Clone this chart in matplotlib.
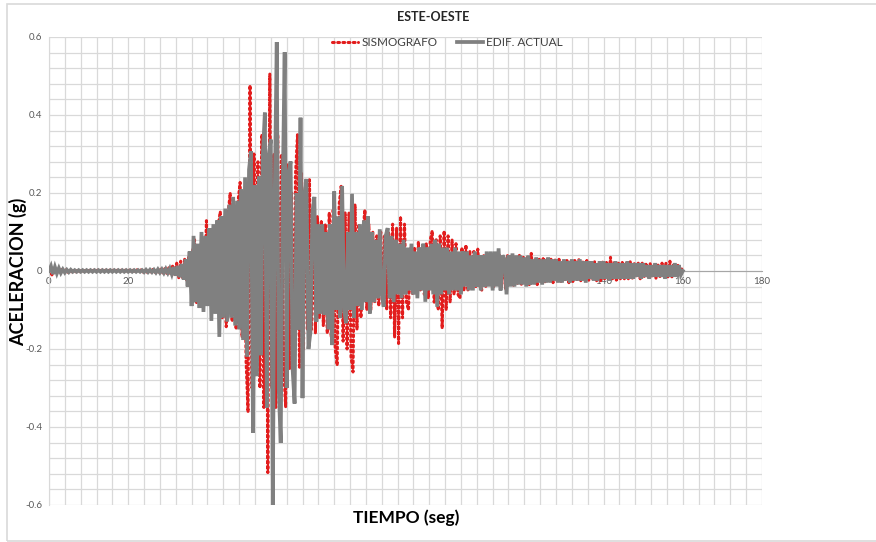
import numpy as np
import matplotlib
matplotlib.use("Agg")
import matplotlib.pyplot as plt
from matplotlib.patches import Rectangle
from matplotlib.ticker import MultipleLocator

plt.rcParams["font.family"] = ["Lato", "DejaVu Sans"]

dt = 0.5  # sampling step of the traces (s)

# SISMOGRAFO: recorded ground acceleration (g), samples start at 0.25 s
sismografo = [
    0.006, -0.01, 0.008, -0.006, 0.005, -0.004, 0.004, -0.003, 0.003, -0.003,
    0.002, -0.002, 0.002, -0.002, 0.002, -0.002, 0.002, -0.002, 0.002, -0.002,
    0.002, -0.002, 0.002, -0.002, 0.002, -0.002, 0.002, -0.002, 0.002, -0.002,
    0.002, -0.002, 0.002, -0.002, 0.002, -0.002, 0.002, -0.002, 0.002, -0.002,
    0.002, -0.002, 0.002, -0.003, 0.003, -0.003, 0.003, -0.003, 0.003, -0.003,
    0.004, -0.004, 0.004, -0.004, 0.005, -0.005, 0.005, -0.005, 0.006, -0.006,
    0.008, -0.01, 0.015, -0.012, 0.02, -0.018, 0.025, -0.02, 0.03, -0.025,
    0.035, -0.03, 0.05, 0.08, -0.081, 0.06, -0.07, 0.07, -0.06, 0.129,
    -0.07, 0.1, -0.09, 0.11, -0.1, 0.12, 0.152, -0.12, 0.14, -0.143,
    0.15, 0.2, -0.13, 0.16, -0.15, 0.18, 0.227, -0.17, 0.2, -0.229,
    -0.362, 0.476, -0.3, 0.3, -0.25, 0.28, -0.3, 0.35, -0.35, 0.3,
    -0.517, 0.505, -0.3, 0.3, -0.35, 0.35, -0.3, 0.3, -0.25, -0.349,
    0.272, -0.25, 0.2, -0.28, 0.25, 0.352, -0.25, 0.25, -0.2, 0.2,
    -0.15, 0.234, -0.15, 0.15, -0.16, 0.14, -0.12, 0.13, -0.14, 0.12,
    -0.16, 0.15, -0.17, 0.16, -0.2, -0.242, 0.17, 0.217, -0.18, 0.15,
    -0.2, 0.15, -0.22, -0.259, 0.17, -0.15, 0.12, -0.12, 0.1, 0.157,
    -0.1, 0.12, -0.1, 0.1, -0.08, 0.09, -0.09, 0.1, -0.08, 0.09,
    -0.1, 0.1, -0.12, 0.12, -0.17, 0.11, -0.186, 0.14, -0.12, 0.12,
    -0.08, -0.1, 0.06, -0.06, 0.06, -0.05, 0.075, -0.05, 0.06, -0.06,
    0.07, -0.07, 0.08, 0.103, -0.08, 0.08, -0.1, 0.09, -0.147, 0.103,
    -0.1, 0.09, -0.08, 0.08, -0.06, 0.07, -0.06, -0.07, 0.06, -0.05,
    0.067, -0.05, 0.05, -0.045, 0.05, -0.04, 0.056, -0.04, -0.049, 0.04,
    -0.04, 0.04, -0.035, 0.045, -0.04, 0.04, -0.035, 0.04, -0.04, 0.035,
    -0.045, 0.04, -0.035, 0.04, -0.04, 0.035, -0.035, 0.04, -0.035, 0.035,
    -0.03, 0.035, -0.035, 0.045, -0.03, 0.03, -0.035, 0.03, -0.03, 0.035,
    -0.03, 0.03, -0.025, 0.033, -0.03, 0.03, -0.025, 0.03, -0.03, 0.025,
    -0.025, 0.03, -0.03, 0.025, -0.027, 0.03, -0.025, 0.03, -0.025, 0.025,
    -0.025, 0.03, -0.025, 0.025, -0.02, 0.025, -0.025, 0.02, -0.025, 0.025,
    -0.02, 0.025, -0.02, 0.035, -0.02, 0.025, -0.027, 0.02, -0.02, 0.025,
    -0.02, 0.02, -0.02, 0.025, -0.02, 0.02, -0.015, 0.02, -0.02, 0.02,
    -0.015, 0.02, -0.015, 0.02, -0.015, 0.015, -0.02, 0.015, -0.015, 0.02,
    -0.015, 0.02, -0.015, 0.025, -0.015, 0.02, -0.01, 0.015, -0.01, 0.005,
]

# EDIF. ACTUAL: acceleration at the building (g), samples start at 0 s
edificio = [
    0.0, 0.012, -0.008, 0.01, -0.006, 0.007, -0.005, 0.004, -0.004, 0.003,
    -0.003, 0.003, -0.002, 0.002, -0.002, 0.002, -0.002, 0.002, -0.002, 0.002,
    -0.002, 0.002, -0.002, 0.002, -0.002, 0.002, -0.002, 0.002, -0.002, 0.002,
    -0.002, 0.002, -0.002, 0.002, -0.002, 0.002, -0.002, 0.002, -0.002, 0.002,
    -0.002, 0.002, -0.002, 0.002, -0.002, 0.002, -0.002, 0.002, -0.003, 0.003,
    -0.003, 0.003, -0.003, 0.003, -0.004, 0.004, -0.004, 0.004, -0.005, 0.005,
    -0.005, 0.006, -0.008, 0.01, -0.012, 0.013, -0.016, 0.018, -0.022, 0.03,
    -0.04, 0.05, -0.09, 0.09, -0.08, 0.07, -0.095, 0.1, -0.105, 0.09,
    -0.09, 0.11, -0.128, 0.12, -0.11, 0.13, -0.169, 0.14, -0.12, 0.16,
    -0.13, 0.17, -0.12, 0.19, -0.14, 0.18, -0.15, 0.21, -0.177, 0.24,
    -0.22, 0.26, 0.307, -0.415, 0.22, -0.27, 0.243, -0.216, 0.3, 0.406,
    -0.35, 0.3, 0.337, -0.602, 0.2, 0.587, -0.3, -0.441, 0.2, 0.561,
    -0.3, 0.25, 0.281, -0.25, -0.34, 0.2, -0.15, 0.393, -0.326, 0.2,
    0.236, -0.2, -0.157, 0.15, 0.19, -0.13, 0.12, -0.11, 0.12, -0.113,
    0.1, -0.15, 0.12, -0.19, 0.204, -0.1, 0.14, -0.12, 0.218, -0.1,
    -0.134, 0.1, -0.1, 0.198, -0.12, 0.1, -0.09, 0.12, -0.1, 0.13,
    -0.08, 0.14, -0.109, 0.1, -0.08, 0.08, -0.07, 0.107, -0.06, -0.092,
    0.09, 0.11, -0.07, 0.09, -0.08, 0.08, -0.06, 0.07, -0.07, 0.08,
    -0.06, 0.06, -0.05, 0.07, -0.06, 0.05, -0.07, 0.06, -0.05, 0.07,
    -0.079, 0.06, -0.05, 0.07, -0.06, 0.08, -0.092, 0.07, -0.06, 0.06,
    -0.05, 0.06, -0.06, 0.05, -0.05, 0.06, -0.05, 0.05, -0.06, 0.05,
    -0.04, 0.05, -0.05, 0.04, -0.05, 0.05, -0.04, 0.04, -0.05, 0.04,
    -0.04, 0.05, -0.04, 0.05, -0.05, 0.05, -0.04, 0.058, -0.05, 0.04,
    0.03, -0.06, 0.04, -0.04, 0.045, -0.04, 0.04, -0.035, 0.04, -0.035,
    0.035, -0.04, 0.04, -0.035, 0.03, -0.035, 0.035, -0.03, 0.03, -0.035,
    0.03, -0.03, 0.035, -0.03, 0.03, -0.025, 0.03, -0.03, 0.025, -0.03,
    0.03, -0.025, 0.025, -0.03, 0.03, -0.025, 0.025, -0.025, 0.03, -0.025,
    0.025, -0.03, 0.025, -0.02, 0.025, -0.025, 0.02, -0.025, 0.025, -0.02,
    0.025, -0.02, 0.02, -0.025, 0.02, -0.02, 0.025, -0.02, 0.02, -0.02,
    0.02, -0.02, 0.025, -0.02, 0.02, -0.02, 0.02, -0.015, 0.02, -0.02,
    0.02, -0.015, 0.015, -0.02, 0.015, -0.015, 0.02, -0.015, 0.015, -0.015,
    0.015, -0.02, 0.015, -0.015, 0.015, -0.015, 0.02, -0.015, 0.015, -0.01,
    0.0,
]

t_sismo = 0.25 + dt * np.arange(len(sismografo))
t_edif = dt * np.arange(len(edificio))

fig = plt.figure(figsize=(8.76, 5.42), dpi=100)
ax = fig.add_axes([0.0559, 0.0683, 0.8140, 0.8635])

ax.plot(t_sismo, sismografo, color="#e21d1d", lw=2.2,
        linestyle=(0, (0.6, 1.1)), dash_capstyle="round",
        label="SISMOGRAFO", zorder=3)
ax.plot(t_edif, edificio, color="#808080", lw=2.7,
        solid_joinstyle="miter", label="EDIF. ACTUAL", zorder=4)

ax.set_xlim(0, 180)
ax.set_ylim(-0.6, 0.6)
ax.xaxis.set_major_locator(MultipleLocator(20))
ax.xaxis.set_minor_locator(MultipleLocator(4))
ax.yaxis.set_major_locator(MultipleLocator(0.2))
ax.yaxis.set_minor_locator(MultipleLocator(0.04))
ax.set_yticklabels([f"{v:g}" for v in ax.get_yticks()])

ax.grid(which="both", color="#d9d9d9", lw=0.9, zorder=0)
ax.set_axisbelow(True)

for side in ("top", "right"):
    ax.spines[side].set_visible(False)
ax.spines["left"].set_color("#d9d9d9")
ax.spines["bottom"].set_position(("data", 0))
ax.spines["bottom"].set_color("#a6a6a6")
ax.spines["bottom"].set_zorder(2)

ax.tick_params(which="both", length=0, labelsize=7, labelcolor="#595959")
ax.tick_params(axis="x", pad=4)
ax.tick_params(axis="y", pad=5)

fig.text(0.494, 0.969, "ESTE-OESTE", ha="center", va="center",
         fontsize=9, fontweight="bold", color="#262626")
fig.legend(loc="center", bbox_to_anchor=(0.511, 0.921), ncol=2,
           frameon=False, fontsize=8.5, handlelength=2.2,
           columnspacing=1.6, handletextpad=0.3, labelcolor="#404040")
fig.text(0.021, 0.498, "ACELERACION (g)", rotation=90, ha="center",
         va="center", fontsize=13, fontweight="bold", color="black")
fig.text(0.4635, 0.044, "TIEMPO (seg)", ha="center", va="center",
         fontsize=12.5, fontweight="bold", color="black")

# light frame around the chart area
fig.patches.append(Rectangle((0.008, 0.002), 1.1, 0.9906,
                             transform=fig.transFigure, fill=False,
                             edgecolor="#d9d9d9", lw=1.2))

fig.savefig("out.png", dpi=100)
